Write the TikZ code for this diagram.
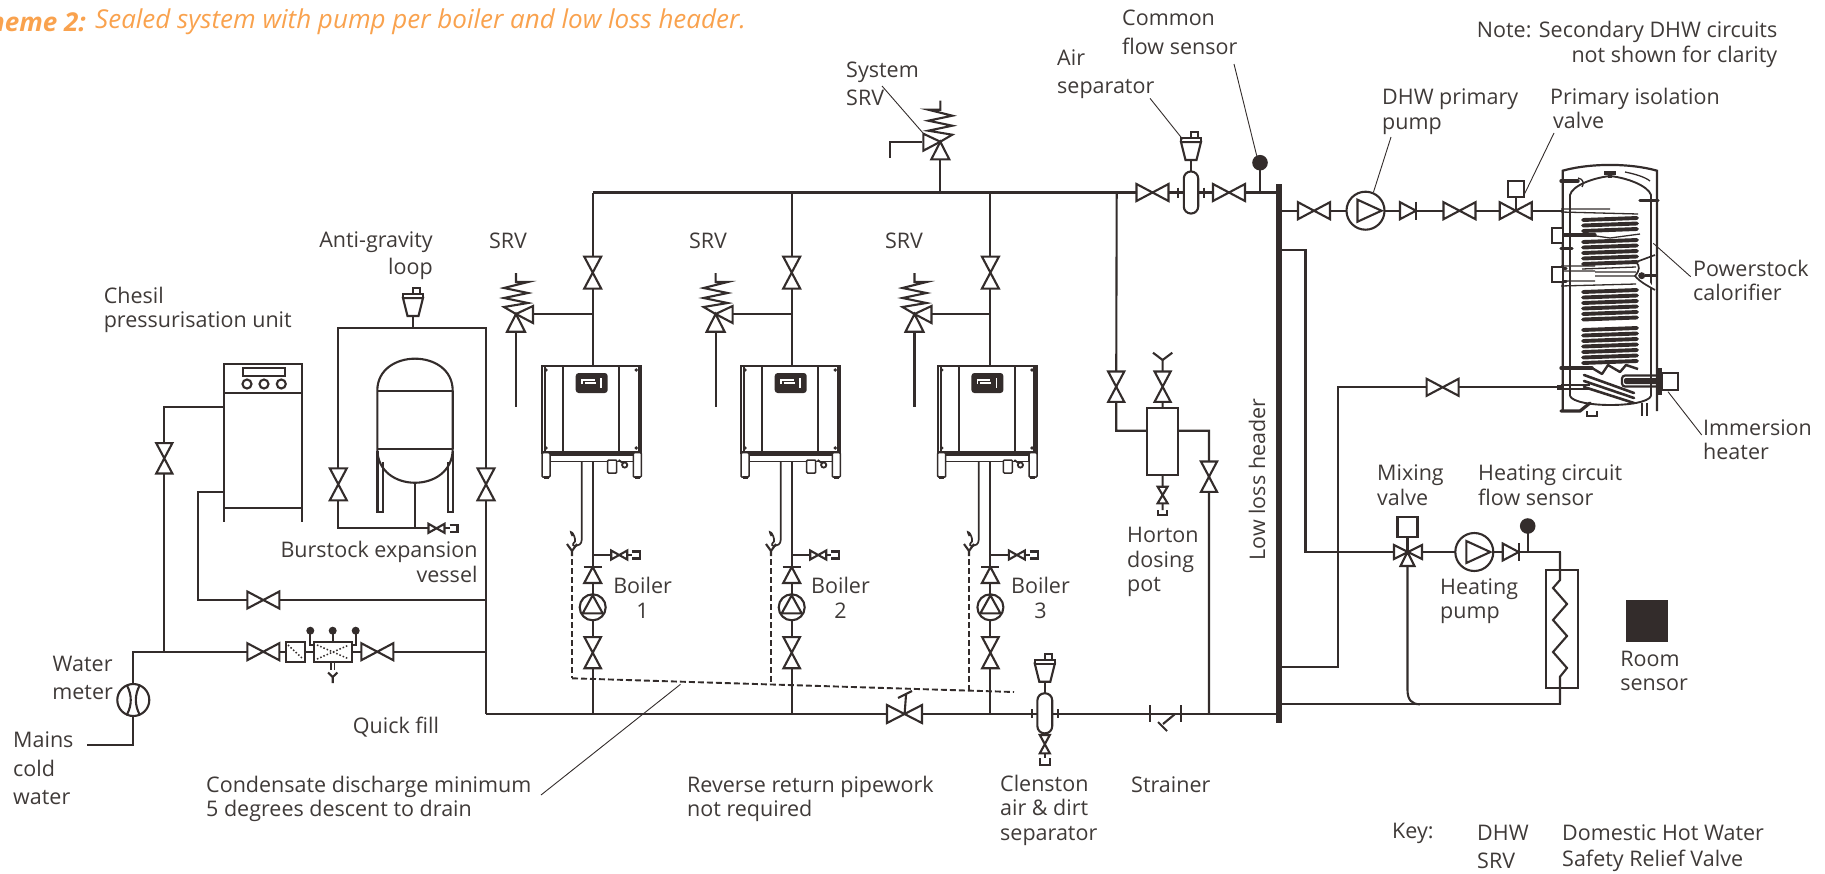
\documentclass[tikz,border=0pt]{standalone}
\usepackage{fontspec}
\setmainfont{Open Sans}
\definecolor{ink}{HTML}{332C2B}
\definecolor{labelink}{HTML}{3F3A38}
\definecolor{schemeorange}{HTML}{F9A24E}

\begin{document}
\begin{tikzpicture}[x=1pt,y=-1pt,
  pipe/.style={ink,line width=2.1pt,line join=miter},
  part/.style={ink,line width=2.1pt,fill=white,line join=miter},
  leader/.style={ink,line width=0.9pt},
  condensate/.style={ink,line width=1.9pt,dash pattern=on 6pt off 3pt},
  coil/.style={ink,line width=3.9pt,line cap=round},
  tube/.style={ink,line width=1.3pt},
  lbl/.style={font=\fontsize{21.5}{24.5}\selectfont,text=labelink,inner sep=0pt,align=left,anchor=west},
  valve/.pic={\draw[part] (-16,-8.5) -- (16,8.5) -- (16,-8.5) -- (-16,8.5) -- cycle;},
  stopcock/.pic={\draw[part] (-8,-4.5) -- (8,4.5) -- (8,-4.5) -- (-8,4.5) -- cycle;
    \draw[pipe,fill=none] (8,0) -- (13,0) (13,-3.5) -- (21,-3.5) -- (21,3.5) -- (13,3.5);},
  checkvalve/.pic={\draw[part] (-8,-8.5) -- (8,0) -- (-8,8.5) -- cycle; \draw[pipe] (8,-9) -- (8,9);},
  pump/.pic={\draw[part] (0,0) circle (19); \draw[pipe] (-8,-11) -- (16,0) -- (-8,11) -- cycle;},
  boilerpump/.pic={\draw[part] (0,0) circle (13); \draw[pipe] (0,-12) -- (-10,6) -- (10,6) -- cycle;},
  capsule/.pic={\draw[part,rounded corners=7pt] (-7.2,-21) rectangle (7.2,21);
    \draw[pipe] (-13,-5) -- (-13,5) (13,-5) -- (13,5);},
  airvent/.pic={\draw[part] (-5.5,0) -- (-10,-18) -- (10,-18) -- (5.5,0) -- cycle;
    \draw[part] (-10,-22) rectangle (10,-18);
    \draw[pipe] (0,-22) -- (0,-28) -- (7,-28) -- (7,-22);},
  srv/.pic={\draw[part] (0,0) -- (-9,17.7) -- (9,17.7) -- cycle;
    \draw[part] (0,0) -- (17,-8) -- (17,9) -- cycle;
    \draw[pipe] (0,0) -- (-12,-7) -- (12,-11) -- (-12,-16) -- (12,-21) -- (-12,-26) -- (12,-32) -- (0,-32) -- (0,-41);},
  tundish/.pic={\draw[pipe] (-5,-6) -- (0,1) -- (5,-6) (0,1) -- (0,6);},
  gaugepin/.pic={\fill[ink] (0,0) circle (4);},
  sensor/.pic={\fill[ink] (0,0) circle (7.8);},
  boiler/.pic={
    \draw[part] (-50.7,0) rectangle (48.6,86.7);
    \draw[pipe] (-47.5,0) -- (-47.5,86.7) (-29.4,0) -- (-29.4,86.7) (26.6,0) -- (26.6,86.7);
    \draw[ink,line width=3.5pt] (46.6,0) -- (46.6,86.7);
    \draw[ink,line width=3.2pt] (-50.7,86.7) -- (48.6,86.7);
    \fill[ink,rounded corners=3pt] (-17,7) rectangle (15,27);
    \draw[white,line width=1.6pt] (-11,18) -- (-11,14) -- (2,14) (-8,17) -- (3,17) (8,12) -- (8,22);
    \foreach \dx/\dy in {-46.7/4,43.5/4,-46.7/82,43.5/82} \fill[ink] (\dx,\dy) circle (1.9);
    \draw[part,line width=1.5pt] (-42.7,89) rectangle (40.6,95.7);
    \draw[part,line width=1.5pt,rounded corners=1pt] (-50.7,86.7) rectangle (-42.7,111);
    \draw[part,line width=1.5pt,rounded corners=1pt] (40.6,86.7) rectangle (48.6,111);
    \draw[ink,line width=2.2pt] (-49,111.5) -- (-44,111.5) (42,111.5) -- (47,111.5);
    \draw[part,line width=1.5pt,rounded corners=1pt] (15,94) rectangle (24,107);
    \draw[ink,line width=1.8pt] (26,94) -- (30,97) (32,99) circle (2.6);
  }]
\useasboundingbox (0,0) rectangle (1825,873);

% heading
\node[font=\fontsize{26}{30}\selectfont\bfseries\itshape,text=schemeorange,inner sep=0pt,anchor=east] (headbold) at (86,22) {Scheme 2:};
\node[font=\fontsize{26}{30}\selectfont\itshape,text=schemeorange,inner sep=0pt,anchor=west] (headtext) at (95,22) {Sealed system with pump per boiler and low loss header.};

% flow main and low loss header
\coordinate (flowa) at (592.7,192.5);
\coordinate (flowb) at (990.4,192.5);
\coordinate (flowdose) at (1116.7,192.5);
\coordinate (flowhead) at (1276,192.5);
\coordinate (flowsrv) at (940.3,192.5);
\coordinate (iso1) at (1152.5,192.5);
\coordinate (iso2) at (1229,192.5);
\coordinate (airsep) at (1191,192.5);
\coordinate (commonsens) at (1260,162.7);
\coordinate (commonfoot) at (1260,192.5);
\draw[pipe] (flowa) -- (flowhead) (commonfoot) -- (commonsens);
\fill[ink] (1275.8,184) rectangle (1281.8,723);

% boilers
\coordinate (retmain) at (486,714);
\coordinate (rethead) at (1276,714);
\draw[pipe] (retmain) -- (rethead);
\foreach \n/\px/\sx/\bx in {1/592.7/516/592.7,2/791.7/715.6/791.7,3/990.4/914.5/988.4}{
  \coordinate (top\n) at (\px,192.5);
  \coordinate (fv\n) at (\px,272.6);
  \coordinate (tee\n) at (\px,314);
  \coordinate (bo\n) at (\px,366);
  \coordinate (boc\n) at (\bx,366);
  \coordinate (bot\n) at (\px,461.7);
  \coordinate (dr\n) at (\px,555);
  \coordinate (nr\n) at (\px,575);
  \coordinate (pu\n) at (\px,607.3);
  \coordinate (rv\n) at (\px,652.7);
  \coordinate (ret\n) at (\px,714);
  \coordinate (srvh\n) at (\sx,314);
  \coordinate (srvt\n) at (\sx,406.7);
  \draw[pipe] (top\n) -- (bo\n) (bot\n) -- (ret\n) (tee\n) -- (srvh\n) (srvh\n) -- (srvt\n) (dr\n) -- ++(19,0);
  \pic[rotate=90] at (fv\n) {valve};
  \pic at (srvh\n) {srv};
  \pic at (boc\n) {boiler};
  \pic at ([xshift=26.5pt]dr\n) {stopcock};
  \pic[rotate=90] at (nr\n) {checkvalve};
  \pic at (pu\n) {boilerpump};
  \pic[rotate=90,scale=.97] at (rv\n) {valve};
}
\node[lbl,anchor=center,align=center] (srvone) at (508,241) {SRV};
\node[lbl,anchor=center,align=center] (srvtwo) at (708,241) {SRV};
\node[lbl,anchor=center,align=center] (srvthree) at (904,241) {SRV};
\node[lbl,anchor=center,align=center] (boilone) at (642.6,598) {Boiler\\1};
\node[lbl,anchor=center,align=center] (boiltwo) at (840.5,598) {Boiler\\2};
\node[lbl,anchor=center,align=center] (boilthree) at (1040.5,598) {Boiler\\3};

% condensate
\coordinate (cdstart) at (572,678.3);
\coordinate (cdend) at (1014,692);
\draw[condensate] (cdstart) -- (cdend);
\foreach \n/\cx/\cy in {1/572/678.3,2/771/684,3/969/690}{
  \coordinate (tun\n) at (\cx,550);
  \coordinate (cdf\n) at (\cx,\cy);
  \draw[condensate] (tun\n) -- (cdf\n);
  \pic at (tun\n) {tundish};
  \draw[ink,line width=1.7pt] ([xshift=9.7pt,yshift=88.3pt]tun\n) -- ([xshift=9.7pt,yshift=10pt]tun\n)
    .. controls +(0,8) and +(-7,6) .. ([xshift=3pt,yshift=8.5pt]tun\n)
    .. controls +(1,-7) and +(-5,-9) .. ([xshift=0.5pt,yshift=14pt]tun\n);
}

% system srv and air separator
\coordinate (sysv) at (940.3,141.7);
\coordinate (sysout) at (922,141.7);
\coordinate (sysbend) at (890,141.7);
\coordinate (sysend) at (890,158);
\draw[pipe] (flowsrv) -- (sysv) (sysout) -- (sysbend) -- (sysend);
\pic[xscale=-1] at (sysv) {srv};
\pic at (iso1) {valve};
\pic at (iso2) {valve};
\draw[pipe] (airsep) -- ++(0,-32);
\pic at (airsep) {capsule};
\pic at (1191,160) {airvent};
\pic at (commonsens) {sensor};

% dosing pot
\coordinate (dosebend) at (1116.2,430.7);
\coordinate (dosev) at (1116.2,386.7);
\node[part,draw,minimum width=31pt,minimum height=66.7pt,inner sep=0pt,anchor=center] (pot) at (1162.6,441.7) {};
\coordinate (potv) at (1162.6,386.7);
\coordinate (potin) at (1162.6,360);
\coordinate (potdrain) at (1162.6,494.5);
\coordinate (potcap) at (1162.6,510);
\coordinate (retv) at (1209,476.7);
\coordinate (retbend) at (1209,430.7);
\coordinate (retfoot) at (1209,714);
\draw[pipe] (flowdose) -- (dosev) -- (dosebend) -- (pot.west |- dosebend) (pot.east |- retbend) -- (retbend) -- (retfoot) (pot.north) -- (potin) (pot.south) -- (potcap);
\draw[pipe] (1153,352.7) -- (potin) -- (1172.3,352.7);
\pic[rotate=90,scale=.95] at (dosev) {valve};
\pic[rotate=90,scale=.95] at (potv) {valve};
\pic[rotate=90,scale=.95] at (retv) {valve};
\draw[part] (1157.6,486.7) -- (1167.6,503.3) -- (1157.6,503.3) -- (1167.6,486.7) -- cycle;
\draw[pipe] (1158,510) -- (1158,515) -- (1167,515) -- (1167,510);

% return main fittings
\coordinate (angv) at (904.6,714);
\draw[pipe] (angv) -- (906,695) (898,698) -- (912,691);
\draw[part] (887,705) -- (922,723) -- (922,705) -- (887,723) -- cycle;
\coordinate (clen) at (1044.8,714);
\draw[pipe] (clen) -- ++(0,-32) (clen) -- ++(0,44);
\draw[part,rounded corners=7pt] (1037.4,693.3) rectangle (1052.2,733.3);
\draw[pipe] (1032,709) -- (1032,718) (1057.6,709) -- (1057.6,718);
\pic at (1044.8,681.7) {airvent};
\draw[part] (1039.8,735) -- (1049.8,753.3) -- (1039.8,753.3) -- (1049.8,735) -- cycle;
\draw[pipe] (1040,758.3) -- (1040,765) -- (1050,765) -- (1050,758.3);
\draw[pipe] (1150,705) -- (1150,722) (1181,705) -- (1181,722);
\draw[pipe] (1175,714) -- (1163,724) (1158,722) -- (1167,731);

% left side: unit, vessel and quick fill
\coordinate (riserv) at (486,484.3);
\coordinate (risertop) at (486,328);
\coordinate (loopleft) at (338.3,328);
\coordinate (loopv) at (338.3,484.3);
\coordinate (loopfoot) at (338.3,528.3);
\coordinate (vesselfoot) at (414.7,528.3);
\coordinate (vesselbase) at (414.7,482.7);
\coordinate (loopdrain) at (436.5,528.3);
\coordinate (ventfoot) at (413,316);
\coordinate (venttee) at (413,328);
\draw[pipe] (retmain) -- (risertop) -- (loopleft) -- (loopfoot) -- (loopdrain) (vesselbase) -- (vesselfoot) (ventfoot) -- (venttee);
\pic[rotate=90] at (riserv) {valve};
\pic[rotate=90] at (loopv) {valve};
\pic at (loopdrain) {stopcock};
\pic at (ventfoot) {airvent};
\draw[part] (377.3,449) -- (377.3,390.7) .. controls (377.3,348) and (452.7,348) .. (452.7,390.7) -- (452.7,449) .. controls (452.7,494) and (377.3,494) .. (377.3,449) -- cycle;
\draw[pipe] (377.3,390.7) -- (452.7,390.7) (377.3,449) -- (452.7,449);
\draw[pipe] (377.5,451) -- (377.5,511.7) -- (382.7,511.7) -- (382.7,462) (452.9,451) -- (452.9,511.7) -- (447.7,511.7) -- (447.7,462);

\node[part,draw,minimum width=78pt,minimum height=144pt,inner sep=0pt] (chesil) at (263.3,436.3) {};
\draw[pipe] (224.3,393.3) -- (302.3,393.3) (224.3,508.3) -- (224.3,521.7) (302.3,508.3) -- (302.3,521.7);
\draw[pipe] (243.3,368.3) rectangle (285,375.7);
\foreach \cx in {247,264,281.3} \draw[pipe] (\cx,384) circle (4.5);

\coordinate (feedtop) at (164.3,407.3);
\coordinate (feedv) at (164.3,458.3);
\coordinate (feedfoot) at (164.3,651.7);
\coordinate (fillleft) at (133.3,651.7);
\coordinate (fillright) at (486,651.7);
\coordinate (meter) at (133.3,700);
\coordinate (mainsbend) at (133.3,745);
\coordinate (mainsend) at (87,745);
\coordinate (backtop) at (198.3,492.3);
\coordinate (backfoot) at (198.3,600);
\coordinate (backright) at (486,600);
\coordinate (backv) at (263.3,600);
\draw[pipe] (chesil.west |- feedtop) -- (feedtop) -- (feedfoot);
\draw[pipe] (chesil.west |- backtop) -- (backtop) -- (backfoot) -- (backright);
\draw[pipe] (fillright) -- (fillleft) -- (mainsbend) -- (mainsend);
\pic[rotate=90,scale=.95] at (feedv) {valve};
\pic at (backv) {valve};
\pic at (263.3,651.7) {valve};
\pic at (377.3,651.7) {valve};
\draw[part] (meter) circle (16);
\draw[pipe] (127,685.5) .. controls (132,695) and (132,705) .. (127,714.5) (139.6,685.5) .. controls (134.6,695) and (134.6,705) .. (139.6,714.5);
\draw[part] (285.7,641.7) rectangle (305,661.7);
\draw[ink,line width=1.5pt,dotted] (288,645) -- (303,659);
\draw[pipe] (310.3,630.7) -- (310.3,645) -- (314,645) (355.7,630.7) -- (355.7,645) -- (352.3,645) (332.7,630.7) -- (332.7,641.7);
\draw[part] (314,641.7) rectangle (352.3,661.7);
\draw[ink,line width=1.5pt,dotted] (317,645) -- (349,659) (317,659) -- (349,645);
\foreach \cx in {310.3,332.7,355.7} \pic at (\cx,630.7) {gaugepin};
\draw[pipe,line width=1.2pt] (331,661.7) -- (331,670) (334.4,661.7) -- (334.4,670);
\draw[pipe] (328,672.5) -- (332.7,677) -- (337.4,672.5) (332.7,677) -- (332.7,683);

% dhw circuit
\coordinate (dhwout) at (1281.8,210.7);
\coordinate (dhwin) at (1561.7,210.7);
\coordinate (dhwvone) at (1314,210.7);
\coordinate (dhwpump) at (1365.5,210.7);
\coordinate (dhwcheck) at (1408,210.7);
\coordinate (dhwvtwo) at (1459.5,210.7);
\coordinate (dhwiso) at (1515.7,210.7);
\coordinate (dhwact) at (1515.7,189);
\draw[pipe] (dhwout) -- (dhwin) (dhwiso) -- (dhwact);
\pic at (dhwvone) {valve};
\pic at (dhwpump) {pump};
\pic at (dhwcheck) {checkvalve};
\pic at (dhwvtwo) {valve};
\pic at (dhwiso) {valve};
\node[part,draw,minimum size=16pt,inner sep=0pt] (dhwbox) at (dhwact) {};

% calorifier
\draw[ink,line width=2.2pt] (1562.7,411) -- (1562.7,170.7) .. controls (1590,163) and (1630,163) .. (1657,170.7) -- (1657,411);
\draw[ink,line width=1.9pt] (1570,396) -- (1570,195) .. controls (1572,186) and (1592,178) .. (1610,176) .. controls (1628,178) and (1648,186) .. (1651,195) -- (1651,396);
\draw[ink,line width=1.9pt] (1570,396) .. controls (1575,408) and (1646,408) .. (1651,396);
\draw[ink,line width=3.4pt] (1604,173) -- (1616,173) (1610,173) -- (1610,178);
\draw[tube] (1625,172) .. controls (1635,174) and (1645,177) .. (1650,181);
\draw[ink,line width=3.4pt,line cap=round] (1561,181) -- (1578,181) (1640,200.7) -- (1658,200.7);
\draw[tube] (1578,178) .. controls (1584,179) and (1584,184) .. (1582,187);
\foreach \yy in {219,224.5,230,241,246.5,252,257.5,263,291,296.5,302,307.5,313,318.5,329,334.5,340,345.5,351,356.5,362}
  \draw[coil] (1583,\yy+1) -- (1637,\yy-1);
\draw[tube] (1561,212) -- (1638,214) (1561,209) -- (1610,209) (1582,234) -- (1610,238) -- (1640,234);
\draw[tube] (1595,272) -- (1636,272) (1595,276) -- (1636,276) (1561,286) -- (1636,284) (1561,281) -- (1595,281) (1561,266) -- (1595,266) (1561,271) -- (1595,271) (1582,269) -- (1636,267);
\draw[ink,line width=3.4pt,line cap=round] (1561,235) -- (1595,235) (1561,248.3) -- (1572,248.3) (1561,268.3) -- (1566,268.3) (1561,281.7) -- (1566,281.7) (1561,368) -- (1592,368);
\draw[part,line width=1.9pt] (1551.7,228.3) rectangle (1562.7,243.3) (1551.7,266.7) rectangle (1562.7,281.7);
\draw[ink,line width=1.7pt,fill=white] (1636,262) .. controls (1640,266) and (1640,270) .. (1635,276) .. controls (1640,282) and (1648,286) .. (1655,290);
\draw[ink,line width=1.7pt] (1636,262) -- (1655,255);
\fill[ink] (1641.7,275.7) circle (3.5);
\draw[ink,line width=3.4pt] (1645,275.7) -- (1658,275.7);
\draw[ink,line width=2.4pt,line join=round] (1592,368) -- (1602,374) -- (1608,365) -- (1620,372) -- (1626,365) -- (1638,369);
\foreach \yy/\ee in {375/393,381/398,387/403}
  \draw[ink,line width=2.6pt,line cap=round] (1584,\yy) -- (1634,\ee);
\draw[ink,line width=2.2pt,rounded corners=3pt] (1658,375.5) -- (1622,375.5) -- (1622,386.5) -- (1658,386.5);
\fill[ink,rounded corners=2pt] (1624,378) rectangle (1658,384);
\draw[part,line width=1.9pt] (1661.7,373.3) rectangle (1678,390);
\fill[ink] (1656.7,368) rectangle (1661.7,395);
\draw[tube,line width=1.7pt] (1561,385) -- (1590,385) (1561,389) -- (1590,389);
\fill[ink] (1557,385) rectangle (1564,390);
\draw[ink,line width=3.2pt,line cap=round] (1561,411) -- (1580,411) -- (1590,403);
\draw[ink,line width=1.9pt] (1587,411) -- (1587,416) -- (1597,416) -- (1597,411) (1642,403) -- (1642,416) (1647,403) -- (1647,416);

% heating circuit
\coordinate (lowtop) at (1281.8,250);
\coordinate (lowbend) at (1305.5,250);
\coordinate (lowfoot) at (1305.5,552);
\coordinate (mix) at (1407.5,552);
\coordinate (mixact) at (1407.5,526.7);
\coordinate (hpump) at (1474.3,552);
\coordinate (hcheck) at (1510.7,552);
\coordinate (hsens) at (1527.7,526);
\coordinate (hfoot) at (1527.7,552);
\coordinate (radtop) at (1560,552);
\coordinate (radbot) at (1560,704.3);
\coordinate (headret) at (1281.8,704.3);
\coordinate (headflow) at (1281.8,667.3);
\coordinate (flowbend) at (1338.3,667.3);
\coordinate (flowup) at (1338.3,387.3);
\coordinate (calin) at (1561.7,387.3);
\coordinate (calv) at (1442.6,387.3);
\draw[pipe] (lowtop) -- (lowbend) -- (lowfoot) -- (mix) -- (radtop) -- (radbot) -- (headret);
\draw[pipe] (headflow) -- (flowbend) -- (flowup) -- (calin);
\draw[pipe] (hfoot) -- (hsens) (mix) -- (mixact);
\draw[pipe] (mix) -- (1407.5,690) .. controls (1407.5,700) and (1412,704.3) .. (1420,704.3);
\pic at (calv) {valve};
\pic at (hpump) {pump};
\pic at (hcheck) {checkvalve};
\pic at (hsens) {sensor};
\draw[part] (1394,545) -- (1422,559) -- (1422,545) -- (1394,559) -- cycle;
\draw[part] (1407.5,552) -- (1400.5,566) -- (1414.5,566) -- cycle;
\node[part,draw,minimum size=20pt,inner sep=0pt] (mixbox) at (mixact) {};
\draw[pipe] (1545.6,570) rectangle (1577.6,687.7);
\fill[white] (1550,580) rectangle (1573,676);
\draw[pipe] (1560,552) -- (1560,580) -- (1553,588) -- (1567,604) -- (1553,620) -- (1567,636) -- (1553,652) -- (1567,668) -- (1560,676.7) -- (1560,704.3);
\node[minimum size=42pt,inner sep=0pt,fill=ink] (roomsens) at (1647,620.5) {};

% leaders
\draw[leader] (882,86) -- (922.7,132.7);
\draw[leader] (1150,98.3) -- (1182.7,139.3);
\draw[leader] (1234,64) -- (1256.7,155.7);
\draw[leader] (1391,137) -- (1373.5,192);
\draw[leader] (1554,133) -- (1524,195);
\draw[leader] (1653.3,243.3) -- (1690.7,276.7);
\draw[leader] (1668,391.7) -- (1701.7,435);
\draw[leader] (680.5,684.3) -- (541,795);

% labels
\node[lbl] (lcommon) at (1122,32.5) {Common\\[4pt]flow sensor};
\node[lbl] (lair) at (1057,74) {Air\\[4pt]separator};
\node[lbl] (lsys) at (846,84) {System\\[4pt]SRV};
\node[lbl,anchor=east,align=right] (lnote) at (1777.5,44.5) {Note: Secondary DHW circuits\\not shown for clarity};
\node[lbl] (ldhw) at (1382,111.5) {DHW primary\\pump};
\node[lbl] (lprim) at (1550,108.5) {Primary isolation\\\hspace*{3pt}valve};
\node[lbl] (lpower) at (1693,280.5) {Powerstock\\calorifier};
\node[lbl] (limm) at (1703,439.5) {Immersion\\heater};
\node[lbl] (lmix) at (1377,485) {Mixing\\valve};
\node[lbl] (lhcfs) at (1478,485) {Heating circuit\\flow sensor};
\node[lbl] (lhpump) at (1440,601) {Heating\\pump};
\node[lbl,anchor=center,align=center] (lroom) at (1650,671) {Room\\\hspace*{8pt}sensor};
\node[lbl,anchor=center,align=center,rotate=90] (llow) at (1257,479.6) {Low loss header};
\node[lbl] (lhorton) at (1127,562) {Horton\\dosing\\pot};
\node[lbl] (lstrain) at (1131,784.5) {Strainer};
\node[lbl] (lclen) at (1000,810) {Clenston\\air \& dirt\\separator};
\node[lbl] (lrev) at (687,799) {Reverse return pipework\\not required};
\node[lbl] (lcond) at (206,799) {Condensate discharge minimum\\5 degrees descent to drain};
\node[lbl] (lquick) at (352.7,727) {Quick fill};
\node[lbl] (lmains) at (13,768.5) {Mains\\[4pt]cold\\[4pt]water};
\node[lbl,anchor=center,align=center] (lwater) at (82.6,678) {Water\\[4pt]meter};
\node[lbl] (lchesil) at (103.6,310) {Chesil\\pressurisation unit};
\node[lbl,anchor=east,align=right] (lanti) at (433,255.5) {Anti-gravity\\[2pt]loop};
\node[lbl,anchor=east,align=right] (lburst) at (477.7,562) {Burstock expansion\\vessel};
\node[lbl] (lkey) at (1392,833) {Key:};
\node[lbl] (lkdhw) at (1477,833) {DHW};
\node[lbl] (lkdom) at (1562,833) {Domestic Hot Water};
\node[lbl] (lksrv) at (1477,860.5) {SRV};
\node[lbl] (lksafe) at (1562,860.5) {Safety Relief Valve};
\end{tikzpicture}
\end{document}
